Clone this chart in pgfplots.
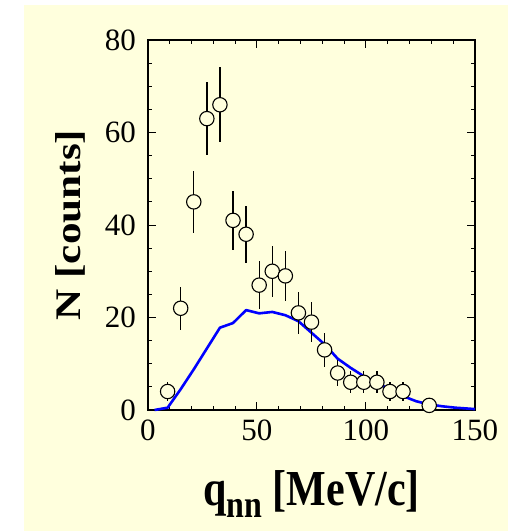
\documentclass[border=0pt]{standalone}
\usepackage{pgfplots}
\pgfplotsset{compat=1.18}
\usepackage{fontspec}
\setmainfont{Liberation Serif}
\definecolor{bgyellow}{RGB}{255,255,221}
\definecolor{lineblue}{RGB}{0,0,255}
\begin{document}
\begin{tikzpicture}
\path[use as bounding box] (-148pt,-121pt) rectangle (360pt,410pt);
\fill[bgyellow] (-124pt,-121pt) rectangle (360pt,405pt);
\begin{axis}[
  scale only axis,
  width=327pt, height=370pt,
  xmin=0, xmax=150, ymin=0, ymax=80,
  xtick distance=50, ytick distance=20,
  minor x tick num=4, minor y tick num=3,
  tick align=inside,
  major tick length=8pt, minor tick length=4pt,
  axis line style={line width=1.2pt},
  every tick/.style={line width=1pt, black},
  /pgf/number format/assume math mode=true,
  tick label style={font=\fontsize{31}{31}\selectfont},
  xticklabel style={inner sep=0pt, yshift=-10pt},
  yticklabel style={inner sep=0pt, xshift=-12pt},
  xlabel={\scalebox{1}[1.2]{\textbf{q\raisebox{-10pt}{\fontsize{32}{32}\selectfont\bfseries nn} [MeV/c]}}},
  ylabel={\scalebox{1.2}[1]{\textbf{N [counts]}}},
  x label style={font=\fontsize{42}{42}\selectfont, at={(axis description cs:0.5,-0.2568)}, anchor=base, inner sep=0pt},
  y label style={font=\fontsize{36}{36}\selectfont, at={(axis description cs:-0.2058,0.5)}, anchor=base, inner sep=0pt},
  clip=false,
]
\addplot[lineblue, line width=2.6pt, line join=round] coordinates {
(3,0.0) (9,0.5) (15,4.5) (21,8.8) (27,13.3) (33,17.8) (39,18.8) (45,21.6)
(51,20.9) (57,21.2) (63,20.5) (69,19.2) (75,16.7) (81,14.2) (87,11.1)
(93,9.1) (99,7.3) (105,5.8) (111,4.5) (117,3.0) (123,1.9) (129,1.2)
(135,0.8) (141,0.5) (147,0.3) (150,0.2)
};
\addplot[only marks, mark=*, mark size=7.2pt,
  mark options={draw=black, fill=bgyellow, line width=1.1pt},
  error bars/.cd, y dir=both, y explicit,
  error bar style={line width=1.3pt, black},
  error mark=none]
  table[x=x, y=y, y error=e] {
x y e
9 4 2.0
15 22 4.7
21 45 6.7
27 63 7.9
33 66 8.1
39 41 6.4
45 38 6.2
51 27 5.2
57 30 5.5
63 29 5.4
69 21 4.6
75 19 4.4
81 13 3.6
87 8 2.8
93 6 2.4
99 6 2.4
105 6 2.4
111 4 2.0
117 4 2.0
129 1 1.0
};
\end{axis}
\end{tikzpicture}
\end{document}
